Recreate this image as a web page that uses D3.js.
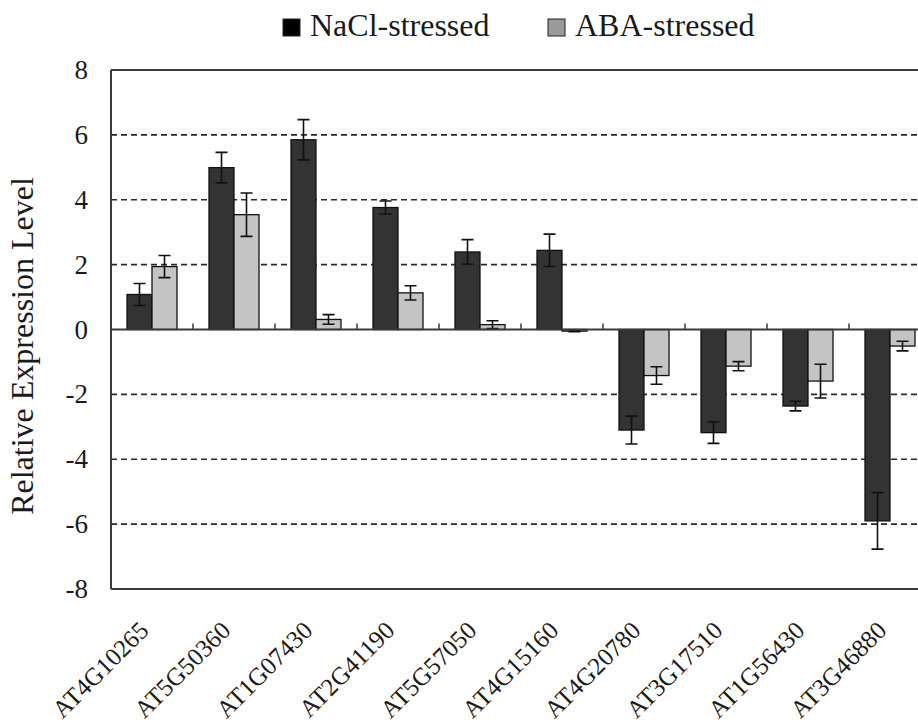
<!DOCTYPE html>
<meta charset="utf-8">
<script src="https://d3js.org/d3.v7.min.js"></script>
<style>
  body { margin: 0; background: #fff; }
  text { font-family: "Liberation Serif", "Times New Roman", serif; fill: #1a1a1a; }
</style>
<div id="chart"></div>
<script>

// gene ids on the x axis
var genes = ["AT4G10265","AT5G50360","AT1G07430","AT2G41190","AT5G57050",
             "AT4G15160","AT4G20780","AT3G17510","AT1G56430","AT3G46880"]
var seriesNames = ["NaCl-stressed","ABA-stressed"]

var naclValues = [1.08, 4.99, 5.85, 3.76, 2.39, 2.44, -3.10, -3.18, -2.36, -5.90]
var naclErrors = [0.34, 0.47, 0.62, 0.20, 0.38, 0.50, 0.43, 0.33, 0.15, 0.87]
var abaValues  = [1.94, 3.54, 0.31, 1.13, 0.15, -0.05, -1.42, -1.13, -1.59, -0.51]
var abaErrors  = [0.34, 0.67, 0.15, 0.22, 0.12, 0.02, 0.27, 0.14, 0.52, 0.15]

var yTicks = [-8,-6,-4,-2,0,2,4,6,8]

var colors = {"NaCl-stressed":"#333333","ABA-stressed":"#c4c4c4"}
var legendColors = {"NaCl-stressed":"#000000","ABA-stressed":"#9a9a9a"}

var width = 918, height = 724
var plotLeft = 111, plotTop = 70, plotBottom = 589
var plotRight = 931

var svg = d3.select("#chart").append("svg").attr("width",width).attr("height",height)

var y = d3.scaleLinear().domain([-8,8]).range([plotBottom, plotTop])
var x = d3.scaleBand().domain(genes).range([plotLeft, plotRight])
var x1 = d3.scaleBand().domain(seriesNames).range([0, x.bandwidth()]).paddingOuter(0.64)

var rows = genes.map(function(g,i){
	return {gene:g, vals:[
		{name:"NaCl-stressed", v:naclValues[i], e:naclErrors[i]},
		{name:"ABA-stressed", v:abaValues[i], e:abaErrors[i]}]}
})

// dashed grid lines
svg.append("g").selectAll("line")
	.data(yTicks.filter(function(t){return t!=0 && Math.abs(t)!=8}))
	.join("line")
	.attr("x1",plotLeft).attr("x2",plotRight)
	.attr("y1",d=>y(d)).attr("y2",d=>y(d))
	.attr("stroke","#2a2a2a").attr("stroke-width",1.6)
	.attr("stroke-dasharray","6,4")

// frame (top, left, bottom)
svg.append("line").attr("x1",plotLeft).attr("x2",plotRight).attr("y1",y(8)).attr("y2",y(8))
	.attr("stroke","#3a3a3a").attr("stroke-width",2)
svg.append("line").attr("x1",plotLeft).attr("x2",plotRight).attr("y1",y(-8)).attr("y2",y(-8))
	.attr("stroke","#3a3a3a").attr("stroke-width",2)
svg.append("line").attr("x1",plotLeft).attr("x2",plotLeft).attr("y1",y(8)).attr("y2",y(-8))
	.attr("stroke","#3a3a3a").attr("stroke-width",2)

// y tick labels
svg.append("g").selectAll("text")
	.data(yTicks)
	.join("text")
	.attr("x",88).attr("y",d=>y(d)+9)
	.attr("text-anchor","end")
	.style("font-size","27px")
	.text(d=>d)

// bars
var groups = svg.append("g").selectAll("g")
	.data(rows)
	.join("g")
	.attr("transform",d=>"translate("+x(d.gene)+",0)")

groups.selectAll("rect")
	.data(d=>d.vals)
	.join("rect")
	.attr("x",d=>x1(d.name))
	.attr("width",x1.bandwidth())
	.attr("y",d=>Math.min(y(d.v),y(0)))
	.attr("height",d=>Math.max(Math.abs(y(d.v)-y(0)),1.5))
	.attr("fill",d=>colors[d.name])
	.attr("stroke","#111").attr("stroke-width",1.3)

// error bars
var cap = 6
groups.selectAll(".err")
	.data(d=>d.vals)
	.join("path")
	.attr("class","err")
	.attr("d",function(d){
		var cx = x1(d.name)+x1.bandwidth()/2
		var y1 = y(d.v+d.e), y2 = y(d.v-d.e)
		return "M"+(cx-cap)+","+y1+"H"+(cx+cap)+"M"+cx+","+y1+"V"+y2+"M"+(cx-cap)+","+y2+"H"+(cx+cap)
	})
	.attr("fill","none").attr("stroke","#111").attr("stroke-width",1.6)

// zero axis with inward ticks between categories
svg.append("line").attr("x1",plotLeft).attr("x2",plotRight).attr("y1",y(0)).attr("y2",y(0))
	.attr("stroke","#3a3a3a").attr("stroke-width",2)
svg.append("g").selectAll("line")
	.data(genes.slice(1))
	.join("line")
	.attr("x1",d=>x(d)).attr("x2",d=>x(d))
	.attr("y1",y(0)).attr("y2",y(0)-6)
	.attr("stroke","#3a3a3a").attr("stroke-width",1.5)

// x labels
svg.append("g").selectAll("text")
	.data(genes)
	.join("text")
	.attr("transform",d=>"translate("+(x(d)+x.bandwidth()/2-2)+","+(plotBottom+43)+") rotate(-45)")
	.attr("text-anchor","end")
	.style("font-size","25px")
	.text(d=>d)

// y axis title
svg.append("text")
	.attr("transform","translate(33,346) rotate(-90)")
	.attr("text-anchor","middle")
	.style("font-size","32px")
	.text("Relative Expression Level")

// legend
var legendX = [283, 548]
var legend = svg.append("g").selectAll("g")
	.data(seriesNames)
	.join("g")
	.attr("transform",(d,i)=>"translate("+legendX[i]+",0)")
legend.append("rect")
	.attr("x",0).attr("y",19).attr("width",17).attr("height",17)
	.attr("fill",d=>legendColors[d]).attr("stroke","#222").attr("stroke-width",1)
legend.append("text")
	.attr("x",27).attr("y",36)
	.style("font-size","32px")
	.text(d=>d)

</script>
